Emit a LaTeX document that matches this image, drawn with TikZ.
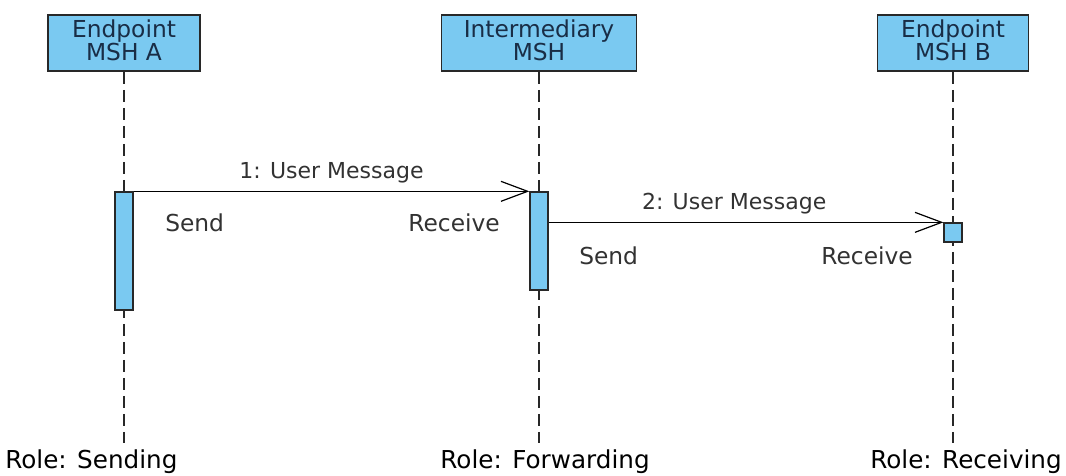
\documentclass[tikz,border=0pt]{standalone}
\usepackage{fontspec}
\setmainfont{DejaVu Sans}
\usetikzlibrary{arrows.meta}

\definecolor{barblue}{RGB}{122,201,241}
\definecolor{edgegray}{RGB}{40,40,40}
\definecolor{headtext}{RGB}{25,45,70}
\definecolor{plaintext}{RGB}{50,50,50}

\tikzset{
  headbox/.style={draw=edgegray,fill=barblue,line width=1.2pt,minimum height=42pt,inner sep=0},
  headlabel/.style={align=center,text=headtext,inner sep=0,font=\fontsize{17.5}{15.75}\selectfont},
  actbar/.style={draw=edgegray,fill=barblue,line width=1pt,minimum width=13.5pt,inner sep=0},
  lifeline/.style={draw=edgegray,line width=1.1pt,dash pattern=on 9pt off 4.5pt},
  msgarrow/.style={draw=black,line width=0.9pt,-{Straight Barb[length=20pt,width=15pt,line width=0.9pt]}},
  msglabel/.style={text=plaintext,inner sep=0,font=\fontsize{16.5}{18}\selectfont},
  sidelabel/.style={text=plaintext,inner sep=0,font=\fontsize{17.5}{20}\selectfont},
  rolelabel/.style={text=black,inner sep=0,font=\fontsize{18.5}{22}\selectfont}
}

\begin{document}
\begin{tikzpicture}[x=0.75pt,y=-0.75pt]
    \pgfmathsetmacro{\lifeA}{124}
    \pgfmathsetmacro{\lifeI}{539}
    \pgfmathsetmacro{\lifeB}{953}
    \pgfmathsetmacro{\lifeend}{443}
    \useasboundingbox (0,0) rectangle (1066,475);
    % heads
    \node[headbox,minimum width=114pt] (msha) at (\lifeA,43) {};
    \node[headbox,minimum width=146pt] (mshi) at (\lifeI,43) {};
    \node[headbox,minimum width=113pt] (mshb) at (\lifeB,43) {};
    \node[headlabel] (msha-text) at ([yshift=2pt]msha.center) {Endpoint\\MSH A};
    \node[headlabel] (mshi-text) at ([yshift=2pt]mshi.center) {Intermediary\\MSH};
    \node[headlabel] (mshb-text) at ([yshift=2pt]mshb.center) {Endpoint\\MSH B};
    % lifelines
    \coordinate (endA) at (\lifeA,\lifeend);
    \coordinate (endI) at (\lifeI,\lifeend);
    \coordinate (endB) at (\lifeB,\lifeend);
    \draw[lifeline] (msha.south) -- (endA);
    \draw[lifeline] (mshi.south) -- (endI);
    \draw[lifeline] (mshb.south) -- (endB);
    % activations
    \node[actbar,minimum height=88.5pt] (barA) at (\lifeA,251) {};
    \node[actbar,minimum height=73.5pt] (barI) at (\lifeI,241) {};
    \node[actbar,minimum height=14.25pt] (barB) at (\lifeB,232.5) {};
    % messages
    \draw[msgarrow] (barA.north east) -- (barI.north west)
        node[msglabel,midway,above=6pt] (msg1) {1: User Message};
    \draw[msgarrow] (barI.east |- barB.north) -- (barB.north west)
        node[msglabel,pos=0.47,above=6pt] (msg2) {2: User Message};
    \node[sidelabel,anchor=west] (sendA) at (165,223) {Send};
    \node[sidelabel,anchor=east] (recvI) at (500,223) {Receive};
    \node[sidelabel,anchor=west] (sendI) at (579,256) {Send};
    \node[sidelabel,anchor=east] (recvB) at (913,256) {Receive};
    % roles
    \node[rolelabel,anchor=west] (roleA) at (5,462) {Role: Sending};
    \node[rolelabel] (roleI) at (545,462) {Role: Forwarding};
    \node[rolelabel,anchor=east] (roleB) at (1062,462) {Role: Receiving};
\end{tikzpicture}
\end{document}
